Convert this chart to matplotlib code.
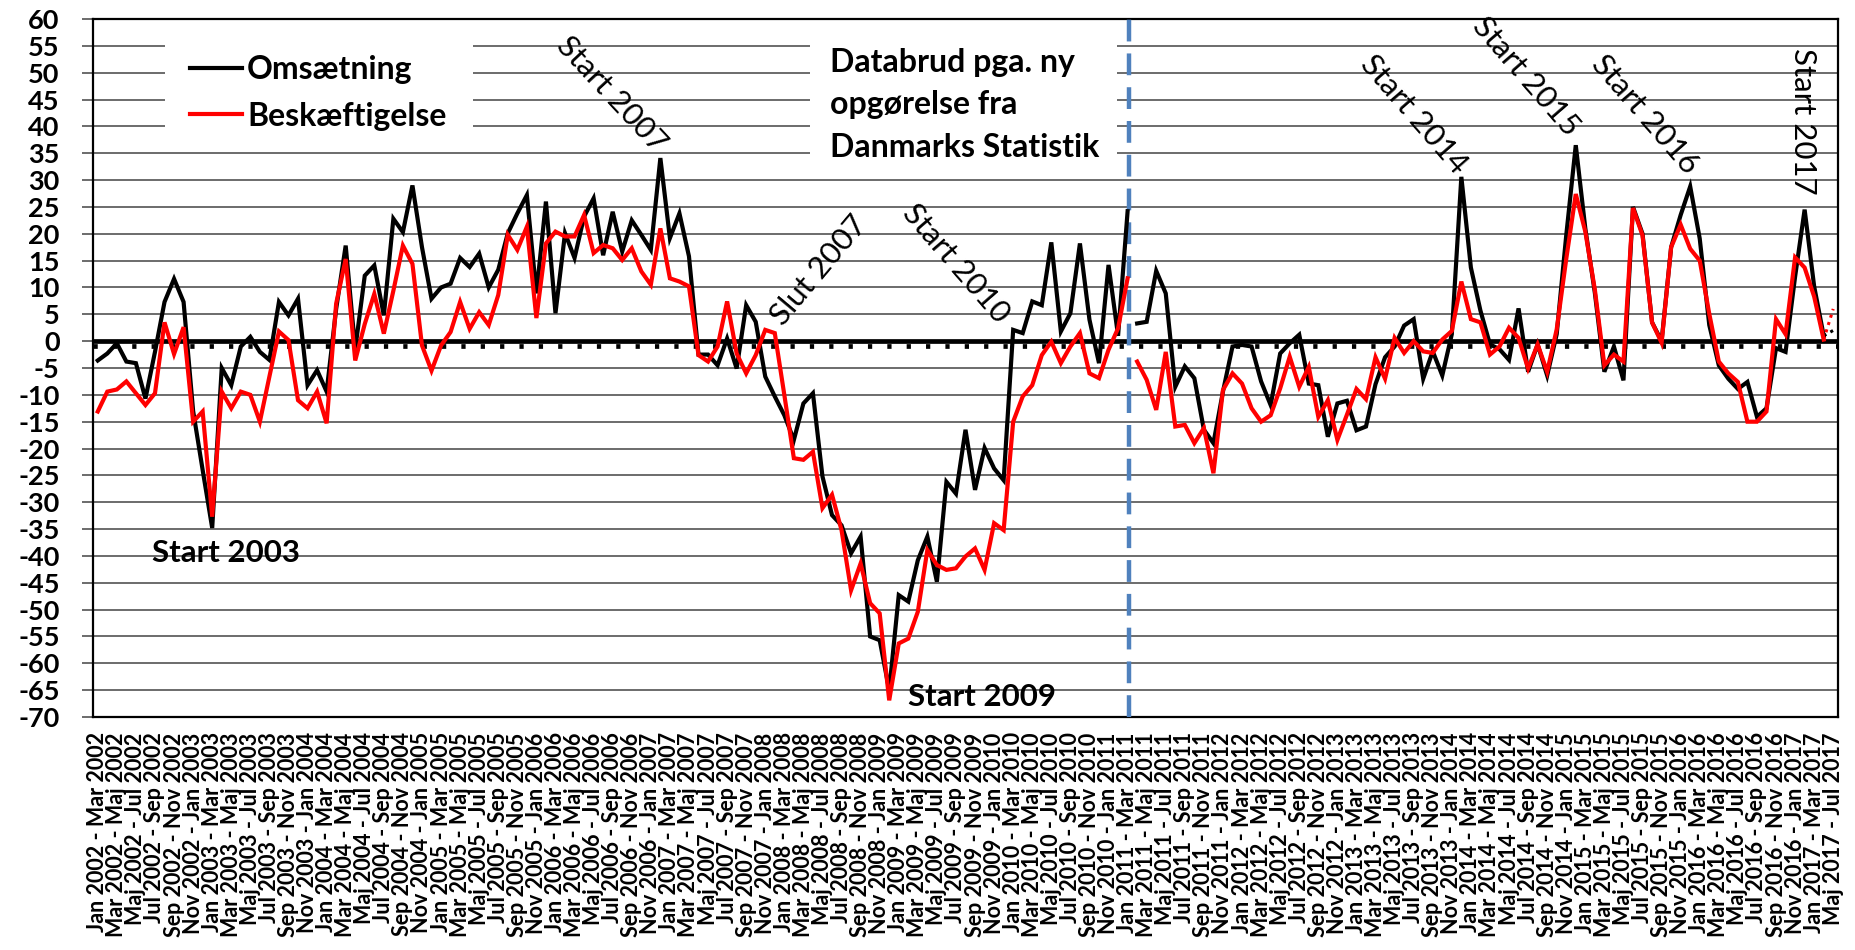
import matplotlib
matplotlib.use('Agg')
import matplotlib.pyplot as plt
from matplotlib.patches import Rectangle

# ---------------- data ----------------
month_names = ['Jan', 'Feb', 'Mar', 'Apr', 'Maj', 'Jun', 'Jul', 'Aug', 'Sep', 'Okt', 'Nov', 'Dec']


def period(k):
    m1 = k + 2
    return f"{month_names[k % 12]} {2002 + k // 12} - {month_names[m1 % 12]} {2002 + m1 // 12}"


# rolling 3-month periods; the series skips two periods before the last one
categories = [period(k) for k in range(182)] + [period(184)]
break_index = 109  # new opgørelse from here

omsaetning_old = [
    -3.6, -2.3, -0.4, -3.8, -4.1, -10.7, -2.0, 7.3, 11.6, 7.3,
    -13.0, -24.0, -34.8, -5.0, -8.2, -1.0, 0.8, -2.0, -3.5, 7.3,
    4.8, 7.9, -8.2, -5.4, -9.4, 6.0, 17.8, -1.5, 12.2, 14.1,
    4.8, 22.8, 20.3, 29.0, 17.5, 7.9, 10.0, 10.7, 15.5, 13.8,
    16.3, 10.0, 13.3, 20.1, 23.8, 27.2, 8.9, 26.0, 5.2, 20.1,
    15.5, 23.2, 26.6, 16.0, 24.1, 16.7, 22.5, 19.8, 17.0, 34.1,
    19.2, 23.8, 15.8, -2.5, -2.5, -4.5, 0.5, -5.1, 6.7, 3.6,
    -6.6, -10.3, -13.8, -18.4, -11.6, -9.7, -25.2, -32.4, -34.3, -39.5,
    -36.4, -55.0, -55.7, -65.0, -47.3, -48.5, -40.8, -36.4, -44.8, -26.2,
    -28.4, -16.5, -27.7, -19.9, -23.7, -25.9, 2.1, 1.5, 7.4, 6.7,
    18.4, 1.8, 5.2, 18.2, 4.0, -4.1, 14.2, 1.0, 24.2,
]
omsaetning_new = [
    3.3, 3.6, 13.1, 8.9, -8.5, -4.7, -6.9, -16.5, -19.0, -9.4,
    -1.0, -0.7, -1.0, -7.5, -11.9, -2.3, -0.4, 1.2, -7.9, -8.2,
    -17.8, -11.6, -11.1, -16.6, -15.9, -8.0, -3.0, -1.0, 2.9, 4.1,
    -7.0, -1.9, -6.4, 1.3, 30.6, 13.7, 5.7, -0.6, -1.5, -3.5,
    6.1, -5.7, -0.6, -6.4, 1.3, 19.7, 36.5, 21.0, 9.0, -5.7,
    -1.0, -7.3, 25.0, 20.0, 3.5, 0.0, 17.5, 23.5, 28.8, 19.1,
    3.0, -4.5, -7.0, -8.9, -7.6, -14.1, -12.5, -1.3, -2.0, 12.0,
    24.5, 10.2, 1.0, 2.0,
]
beskaeftigelse_old = [
    -13.1, -9.4, -9.0, -7.5, -9.7, -11.9, -9.7, 3.5, -2.4, 2.6,
    -15.0, -13.1, -32.7, -9.4, -12.5, -9.4, -10.0, -15.0, -6.6, 1.8,
    0.2, -11.0, -12.5, -9.4, -15.3, 7.0, 15.3, -3.6, 3.2, 8.8,
    1.4, 9.4, 17.8, 14.4, -0.8, -5.5, -0.8, 1.7, 7.3, 2.3,
    5.4, 3.0, 8.6, 19.8, 17.0, 21.3, 4.3, 18.2, 20.4, 19.5,
    19.5, 23.5, 16.4, 17.9, 17.3, 15.1, 17.3, 13.0, 10.5, 21.0,
    11.7, 11.1, 10.2, -2.6, -3.8, -1.0, 7.4, -2.3, -6.0, -2.6,
    2.1, 1.5, -10.0, -21.8, -22.1, -20.6, -31.1, -28.6, -35.2, -46.4,
    -41.4, -48.8, -50.7, -66.9, -56.3, -55.4, -50.4, -38.9, -41.7, -42.6,
    -42.3, -40.1, -38.6, -42.6, -33.9, -35.2, -15.0, -10.3, -8.2, -2.6,
    -0.1, -4.1, -1.0, 1.5, -6.0, -6.9, -1.6, 2.4, 11.7,
]
beskaeftigelse_new = [
    -3.8, -7.2, -12.8, -2.0, -15.9, -15.6, -19.0, -16.2, -24.6, -9.1,
    -6.0, -7.9, -12.5, -15.0, -13.8, -8.8, -2.9, -8.5, -4.8, -14.1,
    -11.0, -18.4, -13.7, -8.9, -10.8, -3.0, -7.0, 0.6, -2.2, 0.0,
    -1.9, -2.2, 0.3, 1.9, 11.1, 4.1, 3.5, -2.5, -1.0, 2.5,
    0.6, -5.1, -0.6, -5.7, 2.2, 15.3, 27.4, 20.4, 9.6, -4.5,
    -2.5, -3.8, 24.8, 19.7, 3.5, -0.3, 17.5, 21.7, 17.2, 15.0,
    5.1, -3.8, -6.0, -7.6, -15.0, -15.0, -13.1, 4.1, 1.3, 15.6,
    13.7, 8.3, 0.3, 6.0,
]
reference_level = -0.9

y_ticks = list(range(-70, 61, 5))
legend_labels = ['Omsætning', 'Beskæftigelse']
annotations = [
    # text, x (category), y (value), rotation, weight
    ('Start 2007', 53.9, 45.9, -47, 'normal'),
    ('Slut 2007', 75.6, 13.2, 50, 'normal'),
    ('Start 2010', 90.0, 14.5, -49, 'normal'),
    ('Start 2014', 138.0, 42.3, -49, 'normal'),
    ('Start 2015', 149.8, 49.2, -49, 'normal'),
    ('Start 2016', 162.3, 42.3, -49, 'normal'),
    ('Start 2017', 178.8, 41.0, -90, 'normal'),
    ('Start 2003', 13.4, -39.4, 0, 'bold'),
    ('Start 2009', 92.7, -66.3, 0, 'bold'),
]
note_text = 'Databrud pga. ny\nopgørelse fra\nDanmarks Statistik'

# ---------------- figure ----------------
FONT = 'Lato'
plt.rcParams['font.family'] = [FONT, 'DejaVu Sans']

fig = plt.figure(figsize=(18.56, 9.5), dpi=100)
ax = fig.add_axes([93 / 1856, 1 - 717 / 950, (1838 - 93) / 1856, (717 - 19) / 950])

x_old = list(range(0, break_index))
x_new = list(range(break_index, len(categories)))

lw = 3.0
l1, = ax.plot(x_old, omsaetning_old, color='black', lw=lw, zorder=5, solid_joinstyle='miter')
l2, = ax.plot(x_old, beskaeftigelse_old, color='#FF0000', lw=lw, zorder=6, solid_joinstyle='miter')
ax.plot(x_new[:-1], omsaetning_new[:-1], color='black', lw=lw, zorder=5, solid_joinstyle='miter')
ax.plot(x_new[:-1], beskaeftigelse_new[:-1], color='#FF0000', lw=lw, zorder=6, solid_joinstyle='miter')
ax.plot(x_new[-2:], omsaetning_new[-2:], color='black', lw=2.2, ls=(0, (1, 1.5)), zorder=5)
ax.plot(x_new[-2:], beskaeftigelse_new[-2:], color='#FF0000', lw=2.2, ls=(0, (1, 1.5)), zorder=6)

# zero line and dotted reference line
ax.axhline(0, color='black', lw=3.4, zorder=3)
ax.axhline(reference_level, color='black', lw=3.4, ls=(0, (0.9, 3.2)), zorder=3)

# data break line
ax.axvline(break_index - 0.85, color='#4F81BD', lw=3.2, ls=(0, (4.9, 2.7)), zorder=4)

ax.set_xlim(-0.5, len(categories) - 0.5)
ax.set_ylim(-70, 60)
ax.set_yticks(y_ticks)
ax.set_yticklabels([str(v) for v in y_ticks], fontsize=19.5, fontweight='bold')
ax.set_xticks(list(range(0, len(categories), 2)))
ax.set_xticklabels(categories[::2], rotation=90, fontsize=15.5, fontweight='bold',
                   ha='center', va='top')
ax.tick_params(axis='x', length=0, pad=11)
ax.tick_params(axis='y', length=8, width=1.1, color='#444444', pad=16)
ax.set_axisbelow(True)
ax.grid(axis='y', color='#444444', lw=1.1)
for sp in ax.spines.values():
    sp.set_color('black')
    sp.set_linewidth(1.6)

# white boxes for legend and note
ax.add_patch(Rectangle((7.1, 37.5), 32.2, 21.4, facecolor='white', edgecolor='none', zorder=1.5))
ax.add_patch(Rectangle((74.7, 32.8), 32.2, 26.1, facecolor='white', edgecolor='none', zorder=1.5))

leg = ax.legend([l1, l2], legend_labels, loc='upper left',
                bbox_to_anchor=((190 - 93) / 1745, (717 - 55) / 698),
                frameon=False, borderpad=0, borderaxespad=0, handlelength=1.63,
                handletextpad=0.16, labelspacing=0.55,
                prop={'family': FONT, 'weight': 'bold', 'size': 23})
leg.set_zorder(7)

ax.text(76.8, 44.0, note_text, fontsize=23, fontweight='bold', ha='left', va='center',
        linespacing=1.55, zorder=7)

for txt, xv, yv, rot, wt in annotations:
    ax.text(xv, yv, txt, rotation=rot, ha='center', va='center',
            fontsize=22.5, fontweight=wt, zorder=8)

fig.savefig('out.png', dpi=100)
